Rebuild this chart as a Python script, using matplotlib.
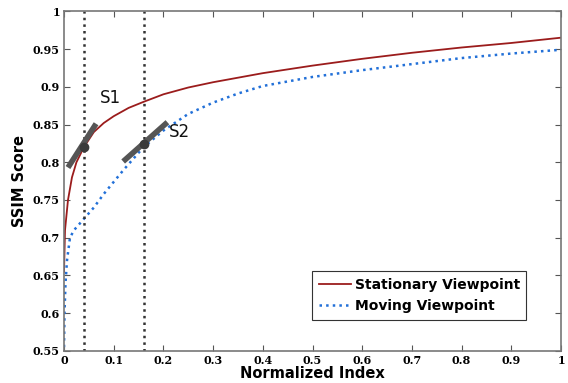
import matplotlib
matplotlib.use('Agg')
import matplotlib.pyplot as plt

# curve samples
x_stat = [0, 0.002, 0.008, 0.016, 0.025, 0.04, 0.06, 0.08, 0.1, 0.13, 0.16, 0.2,
          0.25, 0.3, 0.4, 0.5, 0.6, 0.7, 0.8, 0.9, 1.0]
y_stat = [0.655, 0.71, 0.75, 0.78, 0.80, 0.82, 0.84, 0.852, 0.861, 0.872, 0.88, 0.89,
          0.899, 0.906, 0.918, 0.928, 0.937, 0.945, 0.952, 0.958, 0.965]

x_move = [0, 0.001, 0.003, 0.006, 0.012, 0.02, 0.04, 0.06, 0.08, 0.1, 0.12, 0.14, 0.16,
          0.2, 0.25, 0.3, 0.35, 0.4, 0.5, 0.6, 0.7, 0.8, 0.9, 1.0]
y_move = [0.555, 0.6, 0.64, 0.67, 0.70, 0.71, 0.725, 0.74, 0.758, 0.774, 0.79, 0.805, 0.82,
          0.842, 0.864, 0.879, 0.891, 0.901, 0.913, 0.922, 0.93, 0.938, 0.944, 0.949]

# switch points and their tangent segments
s_names = ['S1', 'S2']
s_x = [0.04, 0.16]
s_y = [0.82, 0.824]
tan_x = [[0.008, 0.0645], [0.119, 0.208]]
tan_y = [[0.793, 0.851], [0.801, 0.853]]
label_pos = [(0.073, 0.878), (0.21, 0.834)]

fig = plt.figure(figsize=(5.68, 3.83), dpi=100)
ax = fig.add_axes([0.1127, 0.0836, 0.875, 0.887])

ax.plot(x_stat, y_stat, color='#9b1c1c', lw=1.3, label='Stationary Viewpoint')
ax.plot(x_move, y_move, color='#2270d8', lw=1.8, ls=':', label='Moving Viewpoint')

for xv in s_x:
    ax.axvline(xv, color='#333333', ls=':', lw=1.8)

for i in range(2):
    ax.plot(tan_x[i], tan_y[i], color='#555555', lw=4, solid_capstyle='butt')
    ax.plot(s_x[i], s_y[i], 'o', color='#3a3a3a', ms=6)
    ax.text(label_pos[i][0], label_pos[i][1], s_names[i], fontsize=12, color='#111111')

ax.set_xlim(0, 1)
ax.set_ylim(0.55, 1)
ax.set_xticks([0, 0.1, 0.2, 0.3, 0.4, 0.5, 0.6, 0.7, 0.8, 0.9, 1])
ax.set_xticklabels(['0', '0.1', '0.2', '0.3', '0.4', '0.5', '0.6', '0.7', '0.8', '0.9', '1'])
ax.set_yticks([0.55, 0.6, 0.65, 0.7, 0.75, 0.8, 0.85, 0.9, 0.95, 1])
ax.set_yticklabels(['0.55', '0.6', '0.65', '0.7', '0.75', '0.8', '0.85', '0.9', '0.95', '1'])
ax.tick_params(direction='in', top=True, right=True, length=4, color='#555555',
               labelsize=8, pad=3)
for lab in ax.get_xticklabels() + ax.get_yticklabels():
    lab.set_fontweight('bold')
    lab.set_family('DejaVu Serif')
for sp in ax.spines.values():
    sp.set_color('#777777')
    sp.set_linewidth(1.2)

ax.set_xlabel('Normalized Index', fontsize=10.5, fontweight='bold', labelpad=0)
ax.set_ylabel('SSIM Score', fontsize=10.5, fontweight='bold', labelpad=4)

leg = ax.legend(loc='lower right', bbox_to_anchor=(0.944, 0.072),
                prop={'size': 10, 'weight': 'bold'},
                fancybox=False, edgecolor='#333333', framealpha=1, borderpad=0.45,
                handlelength=2.3, handletextpad=0.3, labelspacing=0.55)
leg.get_frame().set_linewidth(0.8)

fig.savefig('out.png', dpi=100)
